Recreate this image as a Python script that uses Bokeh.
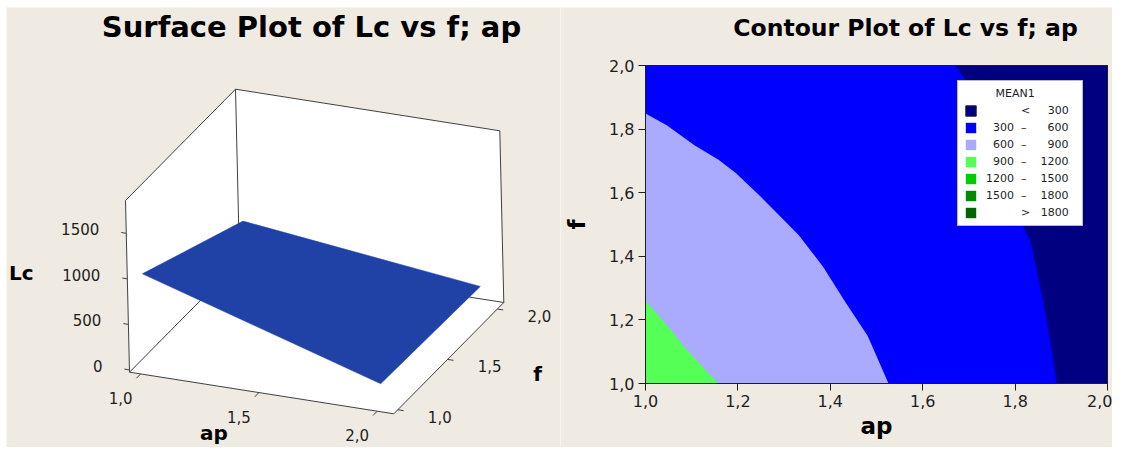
from bokeh.plotting import figure
from bokeh.models import Range1d, FixedTicker, Legend, LegendItem, Spacer
from bokeh.layouts import row, column
from bokeh.embed import file_html
from bokeh.resources import INLINE
from bokeh.core.properties import value

# ------------------------------------------------------------------ data
ap_range = [1.0, 2.0]
f_range = [1.0, 2.0]

# surface: Lc at the four (ap, f) corners of the fitted surface
surf_ap = [1.0, 2.0, 2.0, 1.0]
surf_f = [1.0, 1.0, 2.0, 2.0]
surf_lc = [1030, 232, 195, 503]

lc_ticks = [0, 500, 1000, 1500]
lc_tick_labels = ["0", "500", "1000", "1500"]
ap3d_ticks = [1.0, 1.5, 2.0]
ap3d_tick_labels = ["1,0", "1,5", "2,0"]
f3d_ticks = [1.0, 1.5, 2.0]
f3d_tick_labels = ["1,0", "1,5", "2,0"]

# contour boundaries (ap, f)
c300_ap = [1.671, 1.696, 1.818, 1.833, 1.860, 1.879, 1.890]
c300_f = [2.0, 1.947, 1.492, 1.450, 1.264, 1.108, 1.0]
c600_ap = [1.0, 1.046, 1.106, 1.159, 1.196, 1.249, 1.331, 1.384, 1.429, 1.481, 1.526]
c600_f = [1.849, 1.812, 1.749, 1.703, 1.661, 1.588, 1.468, 1.368, 1.264, 1.149, 1.0]
c900_ap = [1.0, 1.040, 1.085, 1.157]
c900_f = [1.259, 1.195, 1.113, 1.0]

levels = [300, 600, 900, 1200, 1500, 1800]
level_colors = ["#000080", "#0000ff", "#aaaaff", "#55ff55", "#00cc00", "#008c00", "#006400"]
legend_title = "MEAN1"

contour_ticks = [1.0, 1.2, 1.4, 1.6, 1.8, 2.0]
contour_tick_labels = ["1,0", "1,2", "1,4", "1,6", "1,8", "2,0"]

left_title = "Surface Plot of Lc vs f; ap"
right_title = "Contour Plot of Lc vs f; ap"

# ------------------------------------------------------------------ style / layout (page px)
BG = "#efebe2"
INK = "#1e1e1e"
BOX = "#404040"
FONT = value("DejaVu Sans")
X0, Y0 = 6, 7            # top-left of the panels on the page
XS = 560                 # split between the panels
X1, Y1 = 1112, 447       # bottom-right of the panels
LW, RW, H = XS - X0, X1 - XS, Y1 - Y0

# ------------------------------------------------------------------ 3D projection (page px)
A0, A1 = 0.953, 2.07
F0, F1 = 0.96, 2.065
Z0, Z1 = -25.0, 1860.0
O = (129.0, 371.7)
AX = (264.3, 41.6)
FX = (110.0, -111.3)
ZX = (-4.0, -171.7)


def proj(a, f, z):
    ua = (a - A0) / (A1 - A0)
    uf = (f - F0) / (F1 - F0)
    uz = (z - Z0) / (Z1 - Z0)
    return (O[0] + ua * AX[0] + uf * FX[0] + uz * ZX[0],
            O[1] + ua * AX[1] + uf * FX[1] + uz * ZX[1])


def corner(i, j, k):
    return proj(A1 if i else A0, F1 if j else F0, Z1 if k else Z0)


p1 = figure(width=LW, height=H, x_range=Range1d(X0, XS), y_range=Range1d(Y1, Y0),
            output_backend="svg", toolbar_location=None, min_border=0,
            x_axis_location=None, y_axis_location=None,
            background_fill_color=BG, border_fill_color=BG)
p1.grid.visible = False
p1.outline_line_color = None

panels = [
    [corner(0, 0, 0), corner(1, 0, 0), corner(1, 1, 0), corner(0, 1, 0)],  # floor
    [corner(0, 1, 0), corner(1, 1, 0), corner(1, 1, 1), corner(0, 1, 1)],  # back wall
    [corner(0, 0, 0), corner(0, 1, 0), corner(0, 1, 1), corner(0, 0, 1)],  # left wall
]
p1.patches(xs=[[q[0] for q in pn] for pn in panels], ys=[[q[1] for q in pn] for pn in panels],
           fill_color="white", line_color=None)

edges = [((0, 0, 1), (0, 1, 1)), ((0, 1, 1), (1, 1, 1)), ((1, 1, 1), (1, 1, 0)),
         ((0, 1, 0), (0, 1, 1)), ((0, 1, 0), (1, 1, 0)), ((0, 0, 0), (0, 0, 1)),
         ((0, 0, 0), (1, 0, 0)), ((1, 0, 0), (1, 1, 0)), ((0, 0, 0), (0, 1, 0))]
p1.multi_line(xs=[[corner(*a)[0], corner(*b)[0]] for a, b in edges],
              ys=[[corner(*a)[1], corner(*b)[1]] for a, b in edges],
              line_color=BOX, line_width=1)

# ticks
tx, ty = [], []
for z in lc_ticks:
    x, y = proj(A0, F0, z)
    tx.append([x, x - 5]); ty.append([y, y - 0.8])
for a in ap3d_ticks:
    x, y = proj(a, F0, Z0)
    tx.append([x, x - 4.2]); ty.append([y, y + 4.3])
for f in f3d_ticks:
    x, y = proj(A1, f, Z0)
    tx.append([x, x + 5.9]); ty.append([y, y + 0.9])
p1.multi_line(xs=tx, ys=ty, line_color=BOX, line_width=1)

# surface
sp = [proj(a, f, z) for a, f, z in zip(surf_ap, surf_f, surf_lc)]
p1.patch(x=[q[0] for q in sp], y=[q[1] for q in sp], fill_color="#2041a6", line_color="#2041a6",
         line_width=0.5)

# tick labels
lx = [proj(A0, F0, z)[0] - 27 for z in lc_ticks]
ly = [proj(A0, F0, z)[1] - 4 for z in lc_ticks]
p1.text(x=lx, y=ly, text=lc_tick_labels, text_font=FONT, text_font_size="15px",
        text_align="right", text_baseline="middle", text_color=INK)
ax_ = [proj(a, F0, Z0)[0] - 20 for a in ap3d_ticks]
ay_ = [proj(a, F0, Z0)[1] + 24 for a in ap3d_ticks]
p1.text(x=ax_, y=ay_, text=ap3d_tick_labels, text_font=FONT, text_font_size="15px",
        text_align="center", text_baseline="middle", text_color=INK)
fx_ = [proj(A1, f, Z0)[0] + 42 for f in f3d_ticks]
fy_ = [proj(A1, f, Z0)[1] + 7 for f in f3d_ticks]
p1.text(x=fx_, y=fy_, text=f3d_tick_labels, text_font=FONT, text_font_size="15px",
        text_align="center", text_baseline="middle", text_color=INK)

# axis titles
lcx, lcy = proj(A0, F0, 1000)
apx, apy = proj(1.5, F0, Z0)
ffx, ffy = proj(A1, 1.5, Z0)
p1.text(x=[lcx - 106, apx - 45, ffx + 90], y=[lcy - 6, apy + 40, ffy + 15], text=["Lc", "ap", "f"],
        text_font=FONT, text_font_size="20px", text_font_style="bold",
        text_align="center", text_baseline="middle", text_color="black")

# title
p1.text(x=[311], y=[26], text=[left_title], text_font=FONT,
        text_font_size="29px", text_font_style="bold", text_align="center",
        text_baseline="middle", text_color="black")

# ------------------------------------------------------------------ contour plot
# frame fills the whole panel; [1,2]x[1,2] sits at page x 645..1107, y 383..65
PX_L, PX_R, PY_B, PY_T = 645.0, 1107.0, 383.0, 65.0
kx = (ap_range[1] - ap_range[0]) / (PX_R - PX_L)
ky = (f_range[1] - f_range[0]) / (PY_B - PY_T)


def px_ap(x):
    return ap_range[0] + (x - PX_L) * kx


def px_f(y):
    return f_range[0] + (PY_B - y) * ky


p2 = figure(width=RW, height=H, x_range=Range1d(px_ap(XS), px_ap(X1)),
            y_range=Range1d(px_f(Y1), px_f(Y0)),
            output_backend="svg", toolbar_location=None, min_border=0,
            background_fill_color=BG, border_fill_color=BG,
            x_axis_label="ap", y_axis_label="f")
p2.grid.visible = False
p2.outline_line_color = None

overrides = {}
for t, lab in zip(contour_ticks, contour_tick_labels):
    overrides[t] = lab
    overrides["%g" % t] = lab
for ax in (p2.xaxis[0], p2.yaxis[0]):
    ax.fixed_location = 1.0
    ax.bounds = (1.0, 2.0)
    ax.ticker = FixedTicker(ticks=contour_ticks)
    ax.major_label_overrides = overrides
    ax.minor_tick_line_color = None
    ax.major_tick_in = 0
    ax.major_tick_out = 7
    ax.major_label_standoff = 4
    ax.axis_line_color = INK
    ax.major_tick_line_color = INK
    ax.major_label_text_font = "DejaVu Sans"
    ax.major_label_text_font_size = "16px"
    ax.major_label_text_color = INK
    ax.axis_label_text_font = "DejaVu Sans"
    ax.axis_label_text_font_size = "23px"
    ax.axis_label_text_font_style = "bold"
    ax.axis_label_text_color = "black"
p2.xaxis.axis_label_standoff = 3
p2.yaxis.axis_label_standoff = 16

r_navy = p2.patch(x=[ap_range[0], ap_range[1], ap_range[1], ap_range[0]],
                  y=[f_range[0], f_range[0], f_range[1], f_range[1]],
                  fill_color=level_colors[0], line_color=INK, line_width=1)
r_blue = p2.patch(x=[ap_range[0], ap_range[0]] + c300_ap, y=[f_range[0], f_range[1]] + c300_f,
                  fill_color=level_colors[1], line_color=None)
r_lav = p2.patch(x=[ap_range[0]] + c600_ap, y=[f_range[0]] + c600_f,
                 fill_color=level_colors[2], line_color=None)
r_green = p2.patch(x=[ap_range[0]] + c900_ap, y=[f_range[0]] + c900_f,
                   fill_color=level_colors[3], line_color=None)
dummies = [p2.patch(x=[ap_range[0]] * 3, y=[f_range[0]] * 3, fill_color=c, line_color=None)
           for c in level_colors[4:]]
renderers = [r_navy, r_blue, r_lav, r_green] + dummies
# redraw the frame outline on top of the filled regions
p2.line(x=[ap_range[0], ap_range[1], ap_range[1], ap_range[0], ap_range[0]],
        y=[f_range[0], f_range[0], f_range[1], f_range[1], f_range[0]],
        line_color=INK, line_width=1)

p2.text(x=[px_ap(905)], y=[px_f(27)], text=[right_title], text_font=FONT,
        text_font_size="23.5px", text_font_style="bold", text_align="center",
        text_baseline="middle", text_color="black")

FS = "\u2007"


def pad4(n):
    s = str(n)
    return FS * (4 - len(s)) + s


labels = [FS * 5 + "<" + FS + "\u2008" + pad4(levels[0]) + FS]
for lo, hi in zip(levels[:-1], levels[1:]):
    labels.append(pad4(lo) + FS + "\u2013" + FS + FS + pad4(hi) + FS)
labels.append(FS * 5 + ">" + FS + "\u2008" + pad4(levels[-1]) + FS)

legend = Legend(items=[LegendItem(label=l, renderers=[r]) for l, r in zip(labels, renderers)],
                location=(957 - XS, Y1 - 226), title=FS * 4 + "\u2008" + legend_title,
                label_text_font="DejaVu Sans", label_text_font_size="11px", label_text_color=INK,
                title_text_font="DejaVu Sans", title_text_font_size="11px",
                title_text_font_style="normal", title_text_color=INK, title_standoff=4,
                glyph_width=13, glyph_height=13, label_height=13, label_standoff=9,
                spacing=4, padding=6, margin=0,
                border_line_color="#777777", border_line_width=1,
                background_fill_color="white", background_fill_alpha=1.0)
p2.add_layout(legend)

layout = column(Spacer(height=Y0, width=10), row(Spacer(width=X0, height=10), p1, p2))
open("out.html", "w").write(file_html(layout, INLINE))
